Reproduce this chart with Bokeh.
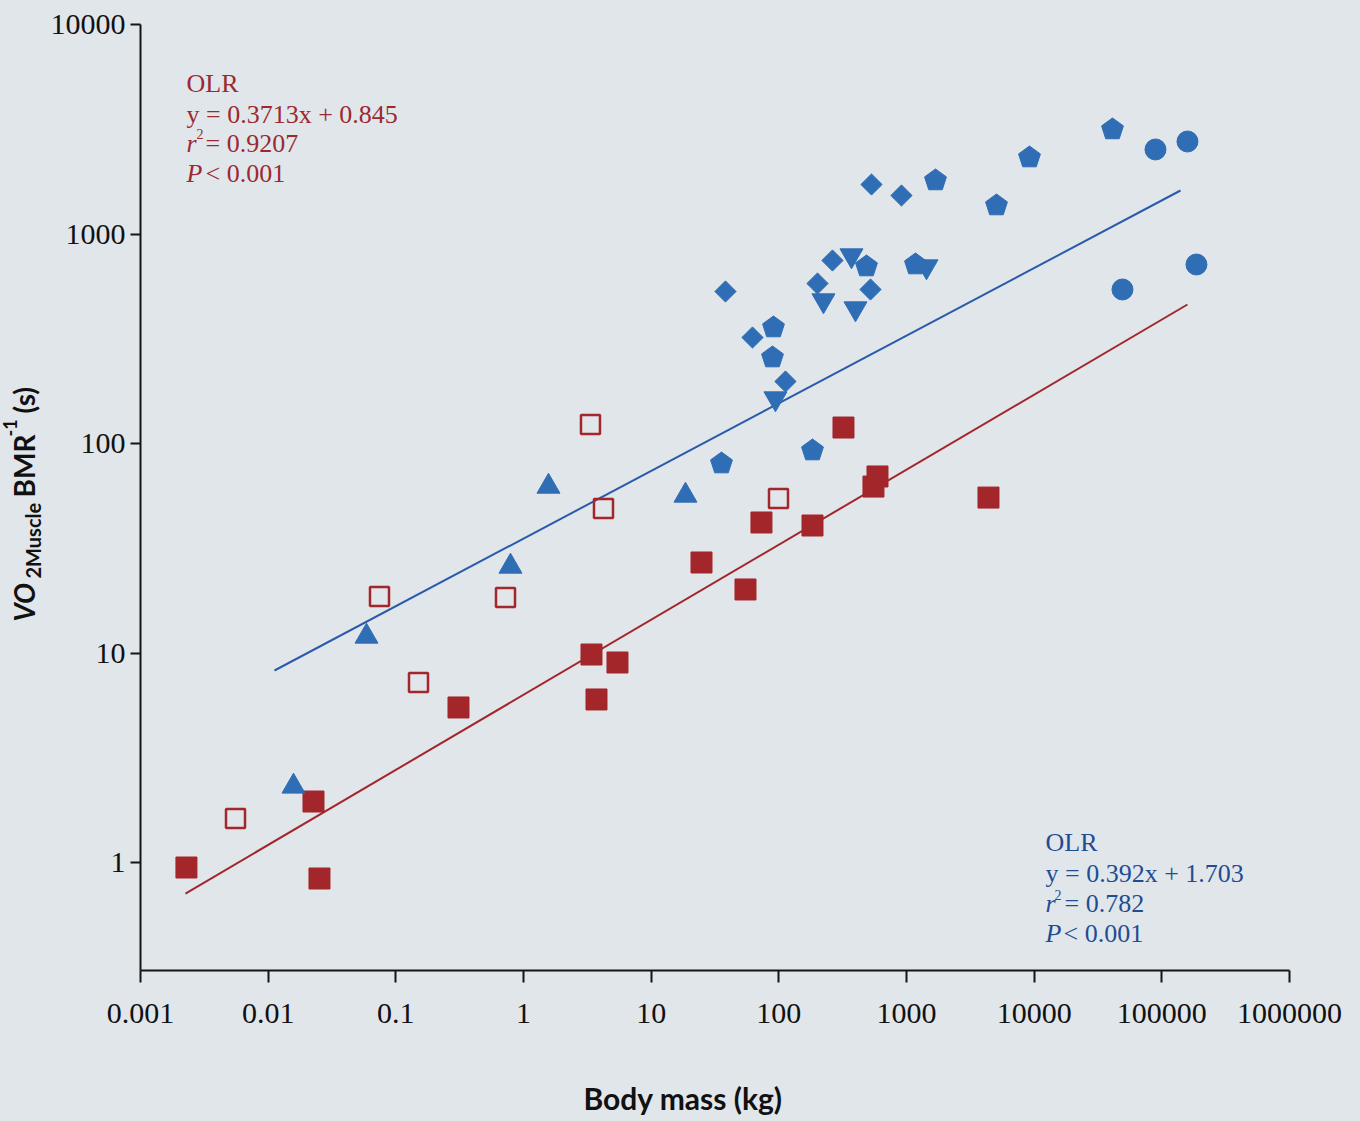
import math
from bokeh.plotting import figure
from bokeh.layouts import row, column
from bokeh.models import Range1d, FixedTicker, CustomJSTickFormatter, Label
from bokeh.core.properties import value
from bokeh.embed import file_html
from bokeh.resources import INLINE

# ---------------- data (body mass kg, VO2Muscle/BMR s) ----------------
red_filled_x = [0.00229, 0.02265, 0.02523, 0.3096, 3.408, 3.73, 5.447, 24.79, 54.8, 73.1, 183.5, 320.9, 551.0, 592.6, 4387.0]
red_filled_y = [0.9465, 1.955, 0.8386, 5.495, 9.835, 6.0, 9.01, 27.04, 20.1, 41.97, 40.6, 119.2, 62.3, 69.6, 55.2]

red_open_x = [0.005549, 0.07447, 0.1505, 0.7228, 3.347, 4.232, 99.4]
red_open_y = [1.622, 18.61, 7.23, 18.4, 123.2, 48.95, 54.6]

blue_tri_x = [0.01579, 0.05892, 0.7907, 1.569, 18.57]
blue_tri_y = [2.306, 11.99, 25.87, 62.3, 56.46]

blue_invtri_x = [94.1, 223.7, 370.7, 398.5, 1434.0]
blue_invtri_y = [164.0, 481.6, 789.6, 441.0, 699.7]

blue_diamond_x = [38.2, 62.2, 112.7, 200.8, 263.1, 531.8, 913.4, 522.3]
blue_diamond_y = [531.6, 320.6, 197.7, 580.3, 747.3, 1723.0, 1527.0, 543.4]

blue_pent_x = [35.54, 90.8, 89.2, 183.5, 485.9, 1176.0, 1687.0, 5068.0, 9190.0, 41060.0]
blue_pent_y = [80.25, 357.9, 257.3, 92.6, 699.7, 715.2, 1801.0, 1368.0, 2318.0, 3155.0]

blue_circle_x = [49170.0, 89170.0, 158800.0, 186700.0]
blue_circle_y = [543.4, 2532.0, 2764.0, 715.2]

red_fit_x = [0.00225, 158800.0]
red_fit_y = [0.711, 460.8]
blue_fit_x = [0.01121, 140000.0]
blue_fit_y = [8.25, 1613.0]

x_ticks = [0.001, 0.01, 0.1, 1, 10, 100, 1000, 10000, 100000, 1000000]
y_ticks = [1, 10, 100, 1000, 10000]

# ---------------- layout helpers (canvas pixels) ----------------
W, H = 1360, 1121
YLAB_W = 46          # strip for the y-axis title
XLAB_H = 46          # strip for the x-axis title
MAIN_H = H - XLAB_H
LEFT, RIGHT, TOP, BOTTOM = 140, 1289, 24, 970
PXD_X = (RIGHT - LEFT) / 9.0
PXD_Y = 209.5
Y_MIN = 10 ** (4 - (BOTTOM - TOP) / PXD_Y)
BASE_FIX = 0.39      # baseline correction (fraction of font size)


def X(px):
    return 10 ** (-3 + (px - LEFT) / PXD_X)


def Y(py):
    return 10 ** (4 - (py - TOP) / PXD_Y)


BG = "#E1E6EB"
RED = "#A3262A"
BLUE = "#2F6DB5"
RED_TXT = "#9B2A30"
BLUE_TXT = "#1E4D93"
INK = "#111111"


def strip(width, height, xr, yr, **borders):
    f = figure(width=width, height=height, x_range=Range1d(*xr), y_range=Range1d(*yr),
               output_backend="svg", toolbar_location=None,
               x_axis_location=None, y_axis_location=None, **borders)
    f.background_fill_color = BG
    f.border_fill_color = BG
    f.outline_line_color = None
    f.xgrid.visible = False
    f.ygrid.visible = False
    return f


# ---------------- main plot ----------------
p = figure(width=W - YLAB_W, height=MAIN_H, x_axis_type="log", y_axis_type="log",
           x_range=Range1d(1e-3, 1e6), y_range=Range1d(Y_MIN, 1e4),
           output_backend="svg", toolbar_location=None,
           min_border_left=LEFT - YLAB_W, min_border_right=W - RIGHT,
           min_border_top=TOP, min_border_bottom=MAIN_H - BOTTOM)
p.background_fill_color = BG
p.border_fill_color = BG
p.outline_line_color = None
p.xgrid.visible = False
p.ygrid.visible = False

fmt = CustomJSTickFormatter(code="return tick.toString();")
for ax, ticks in ((p.xaxis[0], x_ticks), (p.yaxis[0], y_ticks)):
    ax.ticker = FixedTicker(ticks=ticks, minor_ticks=[])
    ax.formatter = fmt
    ax.axis_line_color = "#151515"
    ax.axis_line_width = 2
    ax.major_tick_line_color = "#151515"
    ax.major_tick_line_width = 2
    ax.major_tick_in = 0
    ax.minor_tick_line_color = None
    ax.major_label_text_font = "Liberation Serif"
    ax.major_label_text_font_size = "30px"
    ax.major_label_text_color = INK
p.xaxis.major_tick_out = 12
p.xaxis.major_label_standoff = 21
p.yaxis.major_tick_out = 10
p.yaxis.major_label_standoff = 5

# fit lines
p.line(blue_fit_x, blue_fit_y, line_color="#2A5BAA", line_width=2)
p.line(red_fit_x, red_fit_y, line_color=RED, line_width=2)

# markers
p.scatter(red_open_x, red_open_y, marker="square", size=19, fill_alpha=0,
          line_color=RED, line_width=2.5)
p.scatter(red_filled_x, red_filled_y, marker="square", size=21, fill_color=RED, line_color=RED)
p.scatter(blue_tri_x, blue_tri_y, marker="triangle", size=23, fill_color=BLUE, line_color=BLUE)
p.scatter(blue_invtri_x, blue_invtri_y, marker="inverted_triangle", size=23, fill_color=BLUE, line_color=BLUE)
p.scatter(blue_diamond_x, blue_diamond_y, marker="square", angle=math.pi / 4, size=15,
          fill_color=BLUE, line_color=BLUE)
p.ngon(x=blue_pent_x, y=blue_pent_y, radius=11.5, radius_units="screen", n=5,
       fill_color=BLUE, line_color=BLUE)
p.scatter(blue_circle_x, blue_circle_y, marker="circle", size=21, fill_color=BLUE, line_color=BLUE)


def lab(px, py, text, color, size=26, font="Liberation Serif", style="normal"):
    p.add_layout(Label(x=X(px), y=Y(py - BASE_FIX * size), text=text, text_color=color,
                       text_font=font, text_font_size=f"{size}px", text_font_style=style,
                       text_align="left", text_baseline="alphabetic"))


# red regression text
lab(186, 93, "OLR", RED_TXT)
lab(186, 124, "y = 0.3713x + 0.845", RED_TXT)
lab(186, 153, "r", RED_TXT, style="italic")
lab(196, 139, "2", RED_TXT, size=14)
lab(205, 153, "= 0.9207", RED_TXT)
lab(186, 183, "P", RED_TXT, style="italic")
lab(205, 183, "< 0.001", RED_TXT)

# blue regression text
lab(1045, 852, "OLR", BLUE_TXT)
lab(1045, 883, "y = 0.392x + 1.703", BLUE_TXT)
lab(1045, 913, "r", BLUE_TXT, style="italic")
lab(1054, 900, "2", BLUE_TXT, size=14)
lab(1064, 913, "= 0.782", BLUE_TXT)
lab(1045, 943, "P", BLUE_TXT, style="italic")
lab(1063, 943, "< 0.001", BLUE_TXT)

# ---------------- y-axis title strip (frame aligned with main frame) ----------------
ylab = strip(YLAB_W, MAIN_H, (0, YLAB_W), (-BOTTOM, -TOP),
             min_border_left=0, min_border_right=0,
             min_border_top=TOP, min_border_bottom=MAIN_H - BOTTOM)
up = math.pi / 2
y_title_parts = [  # (baseline x, start y, text, size, style)
    (34, 621, "VO", 28, "bold italic"),
    (40, 578, "2Muscle", 20, "bold"),
    (34, 497, "BMR", 28, "bold"),
    (17, 436, "-1", 18, "bold"),
    (34, 413, "(s)", 28, "bold"),
]
for bx, sy, txt, sz, st in y_title_parts:
    ylab.text(x=[bx - BASE_FIX * sz], y=[-sy], text=[txt], angle=up,
              text_font=value("Lato"), text_font_size=f"{sz}px", text_font_style=st,
              text_color=INK, text_align="left", text_baseline="alphabetic")

# ---------------- x-axis title strip ----------------
xlab = strip(W, XLAB_H, (0, W), (0, XLAB_H), min_border=0)
xlab.text(x=[583], y=[H - 1109 + BASE_FIX * 30], text=["Body mass (kg)"],
          text_font=value("Lato"), text_font_size="30px", text_font_style="bold",
          text_color=INK, text_align="left", text_baseline="alphabetic")

top_row = row(ylab, p, spacing=0, styles={"background-color": BG})
layout = column(top_row, xlab, spacing=0, styles={"background-color": BG})
open("out.html", "w").write(file_html(layout, INLINE))
